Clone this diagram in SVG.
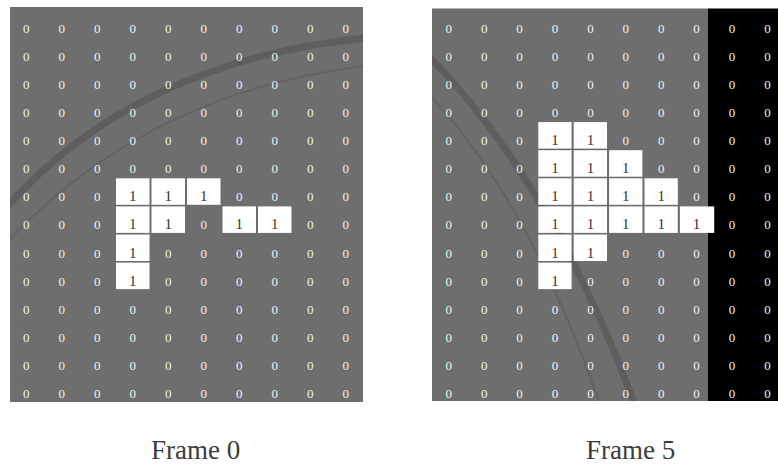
<svg xmlns="http://www.w3.org/2000/svg" width="778" height="466" viewBox="0 0 778 466">
<defs>
<style>
.bg{fill:#6e6e6e}
.blk{fill:#000}
.one{fill:#fff}
.z{font-family:"Liberation Serif","Times New Roman",serif;font-size:13px;fill:#f2f2f2;text-anchor:middle}
.o{font-family:"Liberation Serif","Times New Roman",serif;font-size:15px;fill:#333;text-anchor:middle}
.lbl{font-family:"Liberation Serif","Times New Roman",serif;font-size:27px;fill:#3c3c3c}
.wm{fill:none;stroke:#5e5e5e;stroke-width:7}
.wm2{fill:none;stroke:#636363;stroke-width:2}
</style>
<clipPath id="cl"><rect x="10" y="7" width="353" height="395"/></clipPath>
<clipPath id="cr"><rect x="432" y="8.5" width="276" height="392.5"/></clipPath>
</defs>
<rect width="778" height="466" fill="#fff"/>
<g id="frame0">
<rect class="bg" x="10" y="7" width="353" height="395"/>
<g clip-path="url(#cl)">
<path class="wm" d="M0 215 C80 120 200 55 365 38"/>
<path class="wm2" d="M0 250 C90 150 210 85 365 66"/>
</g>
<g id="frame0-ones">
<rect class="one" x="116" y="178.3" width="33.5" height="26.5"/>
<rect class="one" x="151.5" y="178.3" width="33.5" height="26.5"/>
<rect class="one" x="187" y="178.3" width="33.5" height="26.5"/>
<rect class="one" x="116" y="206.4" width="33.5" height="26.5"/>
<rect class="one" x="151.5" y="206.4" width="33.5" height="26.5"/>
<rect class="one" x="222.5" y="206.4" width="33.5" height="26.5"/>
<rect class="one" x="258" y="206.4" width="33.5" height="26.5"/>
<rect class="one" x="116" y="234.5" width="33.5" height="26.5"/>
<rect class="one" x="116" y="262.6" width="33.5" height="26.5"/>
</g>
<g id="frame0-values">
<text class="z" x="26.3" y="32.7">0</text><text class="z" x="61.8" y="32.7">0</text><text class="z" x="97.3" y="32.7">0</text><text class="z" x="132.8" y="32.7">0</text><text class="z" x="168.3" y="32.7">0</text><text class="z" x="203.8" y="32.7">0</text><text class="z" x="239.3" y="32.7">0</text><text class="z" x="274.8" y="32.7">0</text><text class="z" x="310.3" y="32.7">0</text><text class="z" x="345.8" y="32.7">0</text>
<text class="z" x="26.3" y="60.8">0</text><text class="z" x="61.8" y="60.8">0</text><text class="z" x="97.3" y="60.8">0</text><text class="z" x="132.8" y="60.8">0</text><text class="z" x="168.3" y="60.8">0</text><text class="z" x="203.8" y="60.8">0</text><text class="z" x="239.3" y="60.8">0</text><text class="z" x="274.8" y="60.8">0</text><text class="z" x="310.3" y="60.8">0</text><text class="z" x="345.8" y="60.8">0</text>
<text class="z" x="26.3" y="88.9">0</text><text class="z" x="61.8" y="88.9">0</text><text class="z" x="97.3" y="88.9">0</text><text class="z" x="132.8" y="88.9">0</text><text class="z" x="168.3" y="88.9">0</text><text class="z" x="203.8" y="88.9">0</text><text class="z" x="239.3" y="88.9">0</text><text class="z" x="274.8" y="88.9">0</text><text class="z" x="310.3" y="88.9">0</text><text class="z" x="345.8" y="88.9">0</text>
<text class="z" x="26.3" y="117">0</text><text class="z" x="61.8" y="117">0</text><text class="z" x="97.3" y="117">0</text><text class="z" x="132.8" y="117">0</text><text class="z" x="168.3" y="117">0</text><text class="z" x="203.8" y="117">0</text><text class="z" x="239.3" y="117">0</text><text class="z" x="274.8" y="117">0</text><text class="z" x="310.3" y="117">0</text><text class="z" x="345.8" y="117">0</text>
<text class="z" x="26.3" y="145.1">0</text><text class="z" x="61.8" y="145.1">0</text><text class="z" x="97.3" y="145.1">0</text><text class="z" x="132.8" y="145.1">0</text><text class="z" x="168.3" y="145.1">0</text><text class="z" x="203.8" y="145.1">0</text><text class="z" x="239.3" y="145.1">0</text><text class="z" x="274.8" y="145.1">0</text><text class="z" x="310.3" y="145.1">0</text><text class="z" x="345.8" y="145.1">0</text>
<text class="z" x="26.3" y="173.2">0</text><text class="z" x="61.8" y="173.2">0</text><text class="z" x="97.3" y="173.2">0</text><text class="z" x="132.8" y="173.2">0</text><text class="z" x="168.3" y="173.2">0</text><text class="z" x="203.8" y="173.2">0</text><text class="z" x="239.3" y="173.2">0</text><text class="z" x="274.8" y="173.2">0</text><text class="z" x="310.3" y="173.2">0</text><text class="z" x="345.8" y="173.2">0</text>
<text class="z" x="26.3" y="201.3">0</text><text class="z" x="61.8" y="201.3">0</text><text class="z" x="97.3" y="201.3">0</text><text class="o" x="132.8" y="201.3">1</text><text class="o" x="168.3" y="201.3">1</text><text class="o" x="203.8" y="201.3">1</text><text class="z" x="239.3" y="201.3">0</text><text class="z" x="274.8" y="201.3">0</text><text class="z" x="310.3" y="201.3">0</text><text class="z" x="345.8" y="201.3">0</text>
<text class="z" x="26.3" y="229.4">0</text><text class="z" x="61.8" y="229.4">0</text><text class="z" x="97.3" y="229.4">0</text><text class="o" x="132.8" y="229.4">1</text><text class="o" x="168.3" y="229.4">1</text><text class="z" x="203.8" y="229.4">0</text><text class="o" x="239.3" y="229.4">1</text><text class="o" x="274.8" y="229.4">1</text><text class="z" x="310.3" y="229.4">0</text><text class="z" x="345.8" y="229.4">0</text>
<text class="z" x="26.3" y="257.5">0</text><text class="z" x="61.8" y="257.5">0</text><text class="z" x="97.3" y="257.5">0</text><text class="o" x="132.8" y="257.5">1</text><text class="z" x="168.3" y="257.5">0</text><text class="z" x="203.8" y="257.5">0</text><text class="z" x="239.3" y="257.5">0</text><text class="z" x="274.8" y="257.5">0</text><text class="z" x="310.3" y="257.5">0</text><text class="z" x="345.8" y="257.5">0</text>
<text class="z" x="26.3" y="285.6">0</text><text class="z" x="61.8" y="285.6">0</text><text class="z" x="97.3" y="285.6">0</text><text class="o" x="132.8" y="285.6">1</text><text class="z" x="168.3" y="285.6">0</text><text class="z" x="203.8" y="285.6">0</text><text class="z" x="239.3" y="285.6">0</text><text class="z" x="274.8" y="285.6">0</text><text class="z" x="310.3" y="285.6">0</text><text class="z" x="345.8" y="285.6">0</text>
<text class="z" x="26.3" y="313.7">0</text><text class="z" x="61.8" y="313.7">0</text><text class="z" x="97.3" y="313.7">0</text><text class="z" x="132.8" y="313.7">0</text><text class="z" x="168.3" y="313.7">0</text><text class="z" x="203.8" y="313.7">0</text><text class="z" x="239.3" y="313.7">0</text><text class="z" x="274.8" y="313.7">0</text><text class="z" x="310.3" y="313.7">0</text><text class="z" x="345.8" y="313.7">0</text>
<text class="z" x="26.3" y="341.8">0</text><text class="z" x="61.8" y="341.8">0</text><text class="z" x="97.3" y="341.8">0</text><text class="z" x="132.8" y="341.8">0</text><text class="z" x="168.3" y="341.8">0</text><text class="z" x="203.8" y="341.8">0</text><text class="z" x="239.3" y="341.8">0</text><text class="z" x="274.8" y="341.8">0</text><text class="z" x="310.3" y="341.8">0</text><text class="z" x="345.8" y="341.8">0</text>
<text class="z" x="26.3" y="369.9">0</text><text class="z" x="61.8" y="369.9">0</text><text class="z" x="97.3" y="369.9">0</text><text class="z" x="132.8" y="369.9">0</text><text class="z" x="168.3" y="369.9">0</text><text class="z" x="203.8" y="369.9">0</text><text class="z" x="239.3" y="369.9">0</text><text class="z" x="274.8" y="369.9">0</text><text class="z" x="310.3" y="369.9">0</text><text class="z" x="345.8" y="369.9">0</text>
<text class="z" x="26.3" y="398">0</text><text class="z" x="61.8" y="398">0</text><text class="z" x="97.3" y="398">0</text><text class="z" x="132.8" y="398">0</text><text class="z" x="168.3" y="398">0</text><text class="z" x="203.8" y="398">0</text><text class="z" x="239.3" y="398">0</text><text class="z" x="274.8" y="398">0</text><text class="z" x="310.3" y="398">0</text><text class="z" x="345.8" y="398">0</text>
</g>
<text id="label0" class="lbl" x="151" y="459">Frame 0</text>
</g>
<g id="frame5">
<rect class="bg" x="432" y="8.5" width="276" height="392.5"/>
<g clip-path="url(#cr)">
<path class="wm" d="M420 48 C480 105 565 215 635 405"/>
<path class="wm2" d="M420 85 C470 135 540 230 600 405"/>
</g>
<rect class="blk" x="708" y="8.5" width="70" height="392.5"/>
<g id="frame5-ones">
<rect class="one" x="538.3" y="122.1" width="33.3" height="26.5"/>
<rect class="one" x="573.7" y="122.1" width="33.3" height="26.5"/>
<rect class="one" x="538.3" y="150.2" width="33.3" height="26.5"/>
<rect class="one" x="573.7" y="150.2" width="33.3" height="26.5"/>
<rect class="one" x="609.1" y="150.2" width="33.3" height="26.5"/>
<rect class="one" x="538.3" y="178.3" width="33.3" height="26.5"/>
<rect class="one" x="573.7" y="178.3" width="33.3" height="26.5"/>
<rect class="one" x="609.1" y="178.3" width="33.3" height="26.5"/>
<rect class="one" x="644.5" y="178.3" width="33.3" height="26.5"/>
<rect class="one" x="538.3" y="206.4" width="33.3" height="26.5"/>
<rect class="one" x="573.7" y="206.4" width="33.3" height="26.5"/>
<rect class="one" x="609.1" y="206.4" width="33.3" height="26.5"/>
<rect class="one" x="644.5" y="206.4" width="33.3" height="26.5"/>
<rect class="one" x="679.9" y="206.4" width="34.3" height="26.5"/>
<rect class="one" x="538.3" y="234.5" width="33.3" height="26.5"/>
<rect class="one" x="573.7" y="234.5" width="33.3" height="26.5"/>
<rect class="one" x="538.3" y="262.6" width="33.3" height="26.5"/>
</g>
<g id="frame5-values">
<text class="z" x="448.8" y="32.7">0</text><text class="z" x="484.2" y="32.7">0</text><text class="z" x="519.6" y="32.7">0</text><text class="z" x="555" y="32.7">0</text><text class="z" x="590.4" y="32.7">0</text><text class="z" x="625.8" y="32.7">0</text><text class="z" x="661.2" y="32.7">0</text><text class="z" x="696.6" y="32.7">0</text><text class="z" x="732" y="32.7">0</text><text class="z" x="767.4" y="32.7">0</text>
<text class="z" x="448.8" y="60.8">0</text><text class="z" x="484.2" y="60.8">0</text><text class="z" x="519.6" y="60.8">0</text><text class="z" x="555" y="60.8">0</text><text class="z" x="590.4" y="60.8">0</text><text class="z" x="625.8" y="60.8">0</text><text class="z" x="661.2" y="60.8">0</text><text class="z" x="696.6" y="60.8">0</text><text class="z" x="732" y="60.8">0</text><text class="z" x="767.4" y="60.8">0</text>
<text class="z" x="448.8" y="88.9">0</text><text class="z" x="484.2" y="88.9">0</text><text class="z" x="519.6" y="88.9">0</text><text class="z" x="555" y="88.9">0</text><text class="z" x="590.4" y="88.9">0</text><text class="z" x="625.8" y="88.9">0</text><text class="z" x="661.2" y="88.9">0</text><text class="z" x="696.6" y="88.9">0</text><text class="z" x="732" y="88.9">0</text><text class="z" x="767.4" y="88.9">0</text>
<text class="z" x="448.8" y="117">0</text><text class="z" x="484.2" y="117">0</text><text class="z" x="519.6" y="117">0</text><text class="z" x="555" y="117">0</text><text class="z" x="590.4" y="117">0</text><text class="z" x="625.8" y="117">0</text><text class="z" x="661.2" y="117">0</text><text class="z" x="696.6" y="117">0</text><text class="z" x="732" y="117">0</text><text class="z" x="767.4" y="117">0</text>
<text class="z" x="448.8" y="145.1">0</text><text class="z" x="484.2" y="145.1">0</text><text class="z" x="519.6" y="145.1">0</text><text class="o" x="555" y="145.1">1</text><text class="o" x="590.4" y="145.1">1</text><text class="z" x="625.8" y="145.1">0</text><text class="z" x="661.2" y="145.1">0</text><text class="z" x="696.6" y="145.1">0</text><text class="z" x="732" y="145.1">0</text><text class="z" x="767.4" y="145.1">0</text>
<text class="z" x="448.8" y="173.2">0</text><text class="z" x="484.2" y="173.2">0</text><text class="z" x="519.6" y="173.2">0</text><text class="o" x="555" y="173.2">1</text><text class="o" x="590.4" y="173.2">1</text><text class="o" x="625.8" y="173.2">1</text><text class="z" x="661.2" y="173.2">0</text><text class="z" x="696.6" y="173.2">0</text><text class="z" x="732" y="173.2">0</text><text class="z" x="767.4" y="173.2">0</text>
<text class="z" x="448.8" y="201.3">0</text><text class="z" x="484.2" y="201.3">0</text><text class="z" x="519.6" y="201.3">0</text><text class="o" x="555" y="201.3">1</text><text class="o" x="590.4" y="201.3">1</text><text class="o" x="625.8" y="201.3">1</text><text class="o" x="661.2" y="201.3">1</text><text class="z" x="696.6" y="201.3">0</text><text class="z" x="732" y="201.3">0</text><text class="z" x="767.4" y="201.3">0</text>
<text class="z" x="448.8" y="229.4">0</text><text class="z" x="484.2" y="229.4">0</text><text class="z" x="519.6" y="229.4">0</text><text class="o" x="555" y="229.4">1</text><text class="o" x="590.4" y="229.4">1</text><text class="o" x="625.8" y="229.4">1</text><text class="o" x="661.2" y="229.4">1</text><text class="o" x="696.6" y="229.4">1</text><text class="z" x="732" y="229.4">0</text><text class="z" x="767.4" y="229.4">0</text>
<text class="z" x="448.8" y="257.5">0</text><text class="z" x="484.2" y="257.5">0</text><text class="z" x="519.6" y="257.5">0</text><text class="o" x="555" y="257.5">1</text><text class="o" x="590.4" y="257.5">1</text><text class="z" x="625.8" y="257.5">0</text><text class="z" x="661.2" y="257.5">0</text><text class="z" x="696.6" y="257.5">0</text><text class="z" x="732" y="257.5">0</text><text class="z" x="767.4" y="257.5">0</text>
<text class="z" x="448.8" y="285.6">0</text><text class="z" x="484.2" y="285.6">0</text><text class="z" x="519.6" y="285.6">0</text><text class="o" x="555" y="285.6">1</text><text class="z" x="590.4" y="285.6">0</text><text class="z" x="625.8" y="285.6">0</text><text class="z" x="661.2" y="285.6">0</text><text class="z" x="696.6" y="285.6">0</text><text class="z" x="732" y="285.6">0</text><text class="z" x="767.4" y="285.6">0</text>
<text class="z" x="448.8" y="313.7">0</text><text class="z" x="484.2" y="313.7">0</text><text class="z" x="519.6" y="313.7">0</text><text class="z" x="555" y="313.7">0</text><text class="z" x="590.4" y="313.7">0</text><text class="z" x="625.8" y="313.7">0</text><text class="z" x="661.2" y="313.7">0</text><text class="z" x="696.6" y="313.7">0</text><text class="z" x="732" y="313.7">0</text><text class="z" x="767.4" y="313.7">0</text>
<text class="z" x="448.8" y="341.8">0</text><text class="z" x="484.2" y="341.8">0</text><text class="z" x="519.6" y="341.8">0</text><text class="z" x="555" y="341.8">0</text><text class="z" x="590.4" y="341.8">0</text><text class="z" x="625.8" y="341.8">0</text><text class="z" x="661.2" y="341.8">0</text><text class="z" x="696.6" y="341.8">0</text><text class="z" x="732" y="341.8">0</text><text class="z" x="767.4" y="341.8">0</text>
<text class="z" x="448.8" y="369.9">0</text><text class="z" x="484.2" y="369.9">0</text><text class="z" x="519.6" y="369.9">0</text><text class="z" x="555" y="369.9">0</text><text class="z" x="590.4" y="369.9">0</text><text class="z" x="625.8" y="369.9">0</text><text class="z" x="661.2" y="369.9">0</text><text class="z" x="696.6" y="369.9">0</text><text class="z" x="732" y="369.9">0</text><text class="z" x="767.4" y="369.9">0</text>
<text class="z" x="448.8" y="398">0</text><text class="z" x="484.2" y="398">0</text><text class="z" x="519.6" y="398">0</text><text class="z" x="555" y="398">0</text><text class="z" x="590.4" y="398">0</text><text class="z" x="625.8" y="398">0</text><text class="z" x="661.2" y="398">0</text><text class="z" x="696.6" y="398">0</text><text class="z" x="732" y="398">0</text><text class="z" x="767.4" y="398">0</text>
</g>
<text id="label5" class="lbl" x="586" y="459">Frame 5</text>
</g>
</svg>
